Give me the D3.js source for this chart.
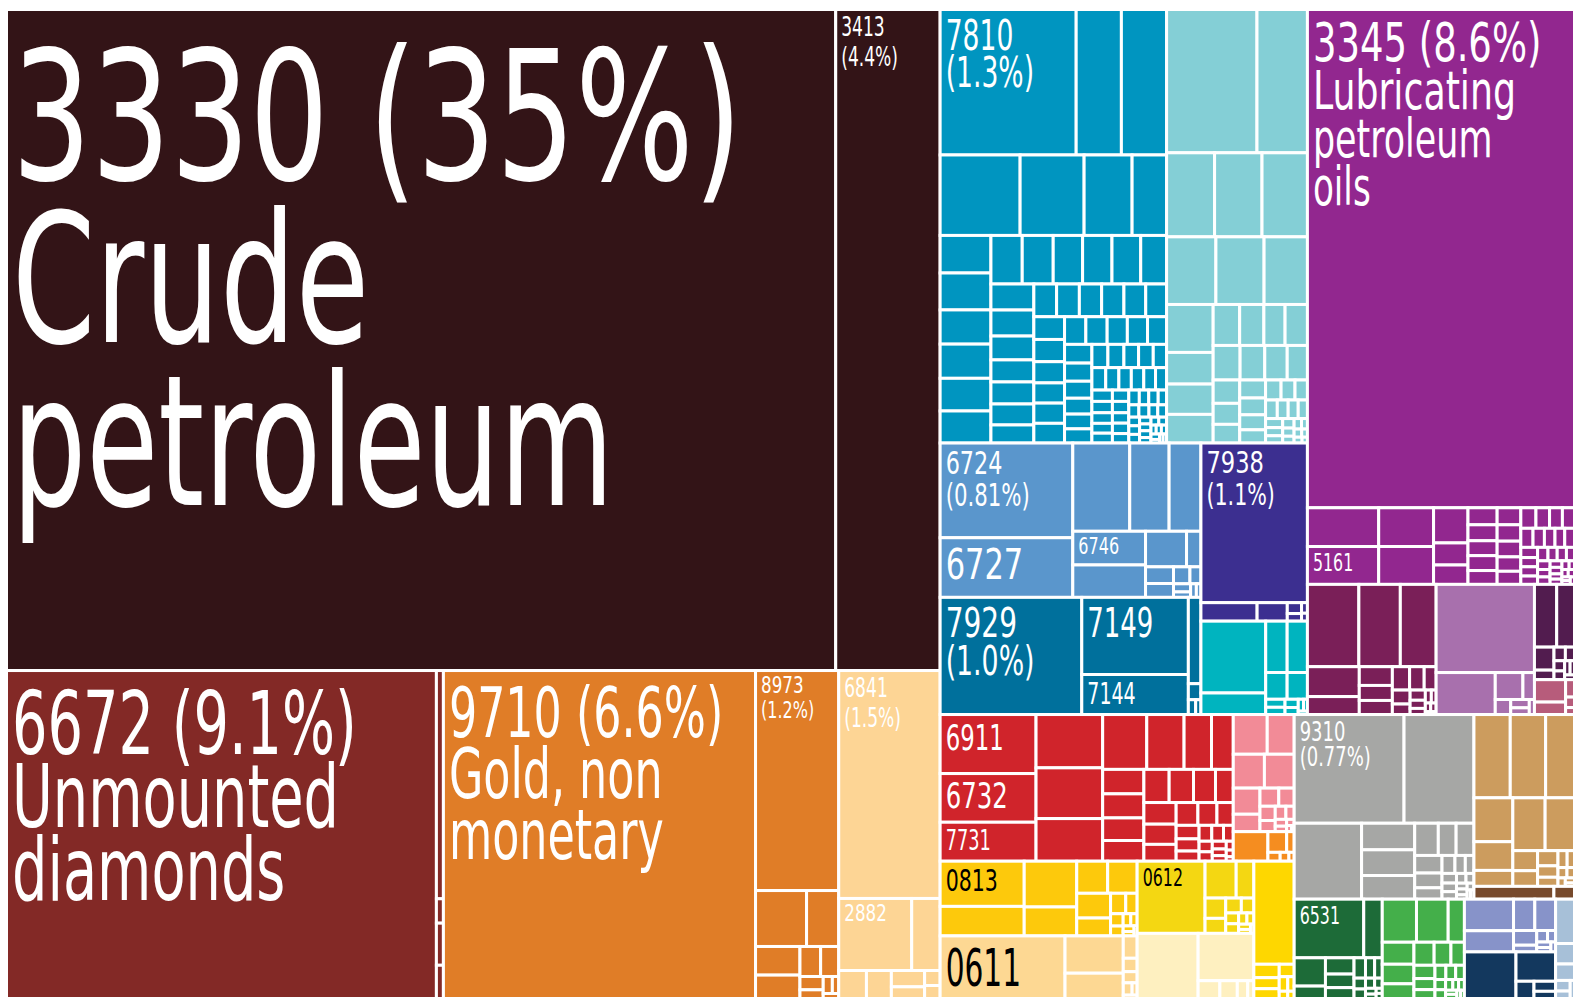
<!DOCTYPE html>
<meta charset="utf-8">
<style>
body { margin: 0; background: #fff; }
text { font-family: "Liberation Sans Narrow", "DejaVu Sans Condensed", "Arial Narrow", sans-serif; }
</style>
<svg width="1573" height="997"></svg>
<script src="https://cdn.jsdelivr.net/npm/d3@7"></script>
<script>
// export shares in % of total, one array per colour block
var fuels      = [35.34, 4.45];
var diamonds   = [9.09, 0.103, 0.011, 0.019, 0.015];
var gold       = [6.60, 1.18, 0.184, 0.116, 0.082, 0.067, 0.040, 0.035, 0.020, 0.013, 0.010, 0.007, 0.005];
var metals     = [1.49, 0.339, 0.132, 0.05, 0.045, 0.035, 0.025, 0.015, 0.013];
var vehicles   = [1.276, 0.424, 0.424, 0.415, 0.332, 0.249, 0.179,
                  0.123, 0.121, 0.112, 0.112, 0.107, 0.105,
                  0.098, 0.097, 0.092, 0.092, 0.090, 0.081,
                  0.072, 0.072, 0.066, 0.061, 0.061, 0.058, 0.05,
                  0.048, 0.048, 0.047, 0.047, 0.046, 0.044,
                  0.045, 0.044, 0.042, 0.040, 0.040, 0.039, 0.038, 0.038, 0.036, 0.036, 0.034, 0.033, 0.032,
                  0.030, 0.028, 0.026, 0.025, 0.024, 0.024, 0.022, 0.022, 0.020, 0.020, 0.019, 0.018, 0.018,
                  0.017, 0.016, 0.015, 0.015, 0.014, 0.013, 0.013, 0.012, 0.012, 0.011, 0.011, 0.010, 0.010,
                  0.009, 0.009, 0.008, 0.008, 0.008, 0.007, 0.007, 0.006, 0.006, 0.006, 0.005, 0.005, 0.005,
                  0.004, 0.004, 0.004, 0.003, 0.003, 0.003, 0.003, 0.002, 0.002, 0.002];
var machinery  = [0.835, 0.466, 0.26, 0.257, 0.246, 0.215, 0.21, 0.189, 0.144, 0.095, 0.091, 0.086,
                  0.07, 0.064, 0.056, 0.059,
                  0.06, 0.055, 0.05, 0.045, 0.04, 0.036, 0.032, 0.03, 0.028, 0.025, 0.022, 0.02, 0.018,
                  0.016, 0.014, 0.013, 0.012, 0.011, 0.01, 0.009, 0.008, 0.007, 0.006, 0.005, 0.005,
                  0.004, 0.004, 0.003, 0.003, 0.002];
var steel      = [0.81, 0.51, 0.324, 0.224, 0.181, 0.158, 0.152, 0.094, 0.033, 0.03, 0.025, 0.018, 0.012, 0.009, 0.006, 0.005, 0.004];
var ships      = [1.096, 0.067, 0.036, 0.01, 0.007, 0.004, 0.003];
var aircraft   = [1.07, 0.53, 0.275, 0.07, 0.013, 0.007, 0.005];
var electrical = [0.30, 0.09, 0.071, 0.067, 0.037, 0.035, 0.01, 0.009, 0.007, 0.006, 0.004, 0.003, 0.002];
var oils       = [8.58, 0.178, 0.174, 0.137, 0.134, 0.078, 0.049, 0.043, 0.032, 0.03, 0.028, 0.028, 0.026,
                  0.026, 0.025, 0.024, 0.022, 0.02, 0.02, 0.018, 0.017, 0.016, 0.015, 0.014, 0.013, 0.012,
                  0.012, 0.011, 0.01, 0.01, 0.009, 0.009, 0.008, 0.008, 0.007, 0.007, 0.006, 0.006, 0.005,
                  0.005, 0.004, 0.004, 0.004, 0.003, 0.003, 0.003, 0.002, 0.002, 0.002];
var plastics   = [0.273, 0.22, 0.19, 0.1, 0.06, 0.04, 0.032, 0.03, 0.026, 0.022, 0.018, 0.016, 0.012, 0.01, 0.008, 0.006, 0.005, 0.004, 0.003, 0.003, 0.002];
var pharma     = [0.559, 0.16, 0.048, 0.02, 0.015, 0.01, 0.008, 0.005];
var dyes       = [0.09, 0.072, 0.029, 0.012, 0.01, 0.008, 0.007, 0.006, 0.005, 0.004, 0.003];
var cosmetics  = [0.045, 0.025, 0.01, 0.006, 0.004];
var ironware   = [0.365, 0.301, 0.241, 0.229, 0.218, 0.183, 0.156, 0.132, 0.097, 0.077,
                  0.065, 0.064, 0.06, 0.055, 0.054, 0.052, 0.047, 0.038,
                  0.045, 0.042, 0.035, 0.032, 0.028, 0.024, 0.02, 0.018, 0.015, 0.013,
                  0.012, 0.01, 0.009, 0.008, 0.007, 0.006, 0.005, 0.004, 0.003, 0.002];
var tools      = [0.087, 0.069, 0.068, 0.065, 0.045, 0.03, 0.022, 0.018, 0.014, 0.011, 0.009, 0.007, 0.005, 0.004, 0.003, 0.002, 0.001];
var cables     = [0.066, 0.025, 0.01, 0.007, 0.005, 0.003];
var coffee     = [0.245, 0.16, 0.155, 0.098, 0.064, 0.061, 0.054, 0.039, 0.02, 0.015, 0.01, 0.008, 0.006, 0.005, 0.004, 0.003, 0.002];
var sugar      = [0.504, 0.14, 0.095, 0.02, 0.012, 0.01, 0.007, 0.004, 0.003];
var beet       = [0.316, 0.074, 0.042, 0.027, 0.02, 0.015, 0.012, 0.009, 0.008, 0.006, 0.005, 0.004, 0.003, 0.002];
var dairy      = [0.256, 0.17, 0.025, 0.02, 0.012, 0.007];
var fruit      = [0.268, 0.022, 0.018, 0.016, 0.012, 0.008, 0.006, 0.004, 0.003];
var misc       = [0.77, 0.49, 0.33, 0.091, 0.088, 0.081, 0.049, 0.037, 0.037, 0.031, 0.026, 0.02,
                  0.015, 0.012, 0.01, 0.009, 0.008, 0.007, 0.006, 0.005, 0.004, 0.004, 0.003, 0.003, 0.002, 0.002];
var wood       = [0.195, 0.19, 0.155, 0.11, 0.072, 0.04, 0.11, 0.1, 0.032, 0.025, 0.02, 0.015, 0.012, 0.01, 0.008, 0.006, 0.005, 0.004, 0.003, 0.002];
var leather    = [0.066, 0.017];
var yarn       = [0.263, 0.07, 0.057, 0.025, 0.03, 0.025, 0.02, 0.015, 0.012, 0.01, 0.008, 0.007, 0.006, 0.005, 0.004, 0.003, 0.002, 0.002];
var clothing   = [0.095, 0.088, 0.045, 0.045, 0.04, 0.03, 0.03, 0.025, 0.02, 0.018, 0.015, 0.012, 0.01, 0.009, 0.008, 0.007, 0.006, 0.005, 0.004, 0.004, 0.003, 0.003, 0.002, 0.002];
var instruments= [0.1, 0.067, 0.043, 0.042, 0.022, 0.01, 0.008, 0.006, 0.005, 0.004, 0.003];
var optics     = [0.155, 0.075, 0.02, 0.014, 0.01];
var paper      = [0.054, 0.025, 0.02, 0.01, 0.007, 0.005];

// colour and the first rows of each block (how many cells per strip)
var blocks = {
  fuels:       [fuels, "#331417", [1, 1]],
  diamonds:    [diamonds, "#832926", [1, 1, 1, 1, 1]],
  gold:        [gold, "#e07d27", [1, 1, 2, 2, 2]],
  metals:      [metals, "#fdd595", [1, "h2"]],
  vehicles:    [vehicles, "#0095c0", [3, 4, 6, 6, 7, 6]],
  machinery:   [machinery, "#84cfd6", [2, 3, 3, 4, 4]],
  steel:       [steel, "#5a96cc", [2, 3, 2, 2]],
  ships:       [ships, "#3c2f90", [1]],
  aircraft:    [aircraft, "#00709c", [1, 2]],
  electrical:  [electrical, "#00b4bf", [2, 2]],
  oils:        [oils, "#92278f", [1, 2, 2, 3, 5]],
  plastics:    [plastics, "#7a1f58", [3, 2]],
  pharma:      [pharma, "#a870ad", [1, 1]],
  dyes:        [dyes, "#521c4f", [2]],
  cosmetics:   [cosmetics, "#b75c7b", []],
  ironware:    [ironware, "#d0242b", [3, 3, 4, 4, 4]],
  tools:       [tools, "#f28b97", [2, 2]],
  cables:      [cables, "#f58d20", []],
  coffee:      [coffee, "#fdc90c", [2, 2, 2, 2]],
  sugar:       [sugar, "#fdd893", [1, 2]],
  beet:        [beet, "#f4d712", [1, 2, 2]],
  dairy:       [dairy, "#fef0c0", [1, 1]],
  fruit:       [fruit, "#fed700", [1]],
  misc:        [misc, "#a6a7a5", [2, 1, 3, 3, 3]],
  wood:        [wood, "#cc9c5e", [3, 3, 2, 2]],
  leather:     [leather, "#774a2c", []],
  yarn:        [yarn, "#1d6b38", [2, 2]],
  clothing:    [clothing, "#44af4a", [3, 3, 3]],
  instruments: [instruments, "#8793c9", [2, 2]],
  optics:      [optics, "#13385e", [1, 1]],
  paper:       [paper, "#a7c0d8", []]
};

// block, cell index, lines, font size, line step, colour, per-line widening
var labels = [
  ["fuels", 0, ["3330 (35%)", "Crude", "petroleum"], 181, 163, "#fff", [1.085, 1.04, 1.02]],
  ["fuels", 1, ["3413", "(4.4%)"], 27, 30, "#fff"],
  ["diamonds", 0, ["6672 (9.1%)", "Unmounted", "diamonds"], 88, 73, "#fff"],
  ["gold", 0, ["9710 (6.6%)", "Gold, non", "monetary"], 70, 61, "#fff"],
  ["gold", 1, ["8973", "(1.2%)"], 23, 25, "#fff", [1.15, 1.1]],
  ["metals", 0, ["6841", "(1.5%)"], 27, 30, "#fff"],
  ["metals", 1, ["2882"], 23, 0, "#fff", [1.15]],
  ["vehicles", 0, ["7810", "(1.3%)"], 42, 37, "#fff"],
  ["steel", 0, ["6724", "(0.81%)"], 32, 32, "#fff", [1.1, 1.05]],
  ["steel", 1, ["6727"], 43, 0, "#fff", [1.12]],
  ["steel", 5, ["6746"], 23, 0, "#fff", [1.1]],
  ["ships", 0, ["7938", "(1.1%)"], 31, 32, "#fff", [1.15, 1.05]],
  ["aircraft", 0, ["7929", "(1.0%)"], 41, 38, "#fff", [1.08, 1.03]],
  ["aircraft", 1, ["7149"], 41, 0, "#fff"],
  ["aircraft", 2, ["7144"], 30, 0, "#fff"],
  ["oils", 0, ["3345 (8.6%)", "Lubricating", "petroleum", "oils"], 54, 48, "#fff", [1.08, 1.06, 1.02, 1]],
  ["oils", 2, ["5161"], 25, 0, "#fff"],
  ["ironware", 0, ["6911"], 36, 0, "#fff"],
  ["ironware", 1, ["6732"], 35, 0, "#fff", [1.1]],
  ["ironware", 2, ["7731"], 28, 0, "#fff"],
  ["coffee", 0, ["0813"], 30, 0, "#000", [1.08]],
  ["beet", 0, ["0612"], 25, 0, "#000"],
  ["sugar", 0, ["0611"], 52, 0, "#000", [0.9]],
  ["misc", 0, ["9310", "(0.77%)"], 27, 25, "#fff", [1.05, 1.05]],
  ["yarn", 0, ["6531"], 25, 0, "#fff"]
];

var svg = d3.select("svg"),
    width = 1568,
    height = 989;

function blk(name) {
  var b = blocks[name];
  return {name: name, rows: b[2], children: b[0].map(function(v, i) {
    return {value: v, block: name, index: i, color: b[1]};
  })};
}
function H() { return {dir: "h", children: Array.from(arguments)}; }
function V() { return {dir: "v", children: Array.from(arguments)}; }

var tree = H(
  V(blk("fuels"), H(blk("diamonds"), blk("gold"), blk("metals"))),
  V(
    H(
      V(H(blk("vehicles"), blk("machinery")),
        H(V(blk("steel"), blk("aircraft")), V(blk("ships"), blk("electrical")))),
      V(blk("oils"), H(blk("plastics"), blk("pharma"), V(blk("dyes"), blk("cosmetics"))))
    ),
    H(
      V(H(blk("ironware"), V(blk("tools"), blk("cables"))),
        H(V(blk("coffee"), blk("sugar")), V(blk("beet"), blk("dairy")), blk("fruit"))),
      V(H(blk("misc"), V(blk("wood"), blk("leather"))),
        H(blk("yarn"), blk("clothing"), V(blk("instruments"), blk("optics")), blk("paper")))
    )
  )
);

// groups are cut straight; inside a block the first strips are given, the rest is squarified
function tile(node, x0, y0, x1, y1) {
  var d = node.data;
  if (d.dir === "h") return d3.treemapDice(node, x0, y0, x1, y1);
  if (d.dir === "v") return d3.treemapSlice(node, x0, y0, x1, y1);
  var kids = node.children, i = 0, left = node.value;
  (d.rows || []).forEach(function(r) {
    var n = typeof r === "number" ? r : +r.slice(1),
        part = {children: kids.slice(i, i + n)};
    part.value = d3.sum(part.children, function(c) { return c.value; });
    var across = typeof r === "string" ? r[0] === "h" : (x1 - x0) <= (y1 - y0);
    if (across) {
      var yy = y0 + (y1 - y0) * part.value / left;
      d3.treemapDice(part, x0, y0, x1, yy);
      y0 = yy;
    } else {
      var xx = x0 + (x1 - x0) * part.value / left;
      d3.treemapSlice(part, x0, y0, xx, y1);
      x0 = xx;
    }
    left -= part.value;
    i += n;
  });
  if (i < kids.length) d3.treemapSquarify({value: left, children: kids.slice(i)}, x0, y0, x1, y1);
}

var root = d3.hierarchy(tree).sum(function(d) { return d.children ? 0 : d.value; });
d3.treemap().size([width, height]).tile(tile)(root);

var g = svg.append("g").attr("transform", "translate(6.5,9.5)");

g.selectAll("rect")
  .data(root.leaves())
  .join("rect")
    .attr("x", function(d) { return d.x0; })
    .attr("y", function(d) { return d.y0; })
    .attr("width", function(d) { return d.x1 - d.x0; })
    .attr("height", function(d) { return d.y1 - d.y0; })
    .attr("fill", function(d) { return d.data.color; })
    .attr("stroke", "#fff")
    .attr("stroke-width", 3);

// narrow the lettering to the condensed face of the original
var probe = svg.append("text").attr("font-size", 100).text("petroleum");
var squeeze = 326 / probe.node().getComputedTextLength();
probe.remove();

var byKey = {};
root.leaves().forEach(function(d) { byKey[d.data.block + ":" + d.data.index] = d; });

labels.forEach(function(l) {
  var cell = byKey[l[0] + ":" + l[1]], fs = l[3],
      x = cell.x0 + 5.5,
      y = cell.y0 + 1.5 + 0.93 * fs;
  l[2].forEach(function(s, i) {
    var k = l[6] ? l[6][i] : 1;
    g.append("text")
        .attr("transform", "translate(" + x + "," + (y + i * l[4]) + ") scale(" + (squeeze * k) + ",1)")
        .attr("font-size", fs)
        .attr("fill", l[5])
        .text(s);
  });
});
</script>
